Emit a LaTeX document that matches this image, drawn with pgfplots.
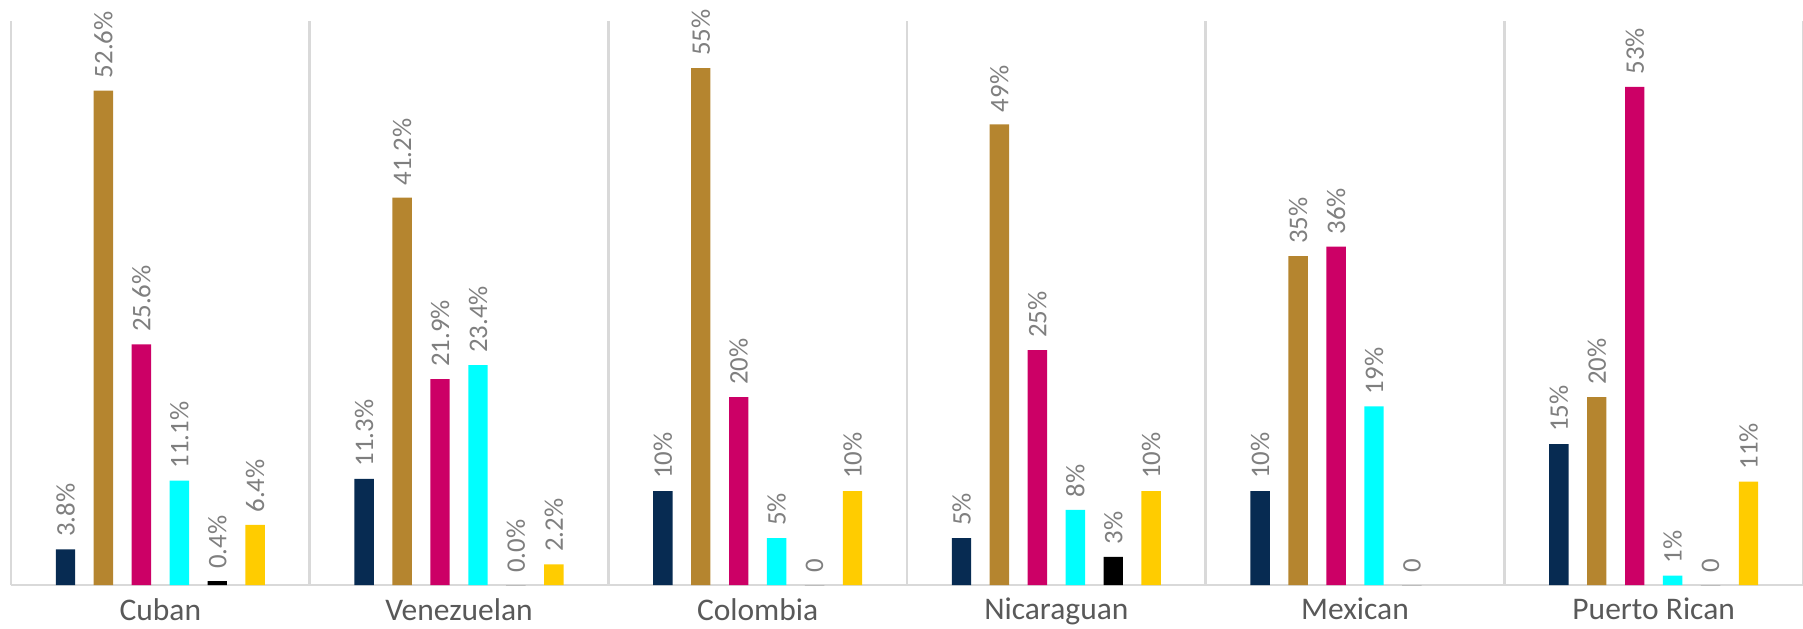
\documentclass[border=0pt]{standalone}
\usepackage{pgfplots}
\pgfplotsset{compat=1.18}
\usepackage{pgfplotstable}
\usepackage{fontspec}
\setmainfont{Carlito}
\definecolor{cNavy}{HTML}{072B52}
\definecolor{cGold}{HTML}{B5852F}
\definecolor{cMag}{HTML}{CC0066}
\definecolor{cCyan}{HTML}{00FFFF}
\definecolor{cBlack}{HTML}{000000}
\definecolor{cYel}{HTML}{FFCC00}
\definecolor{cGrid}{HTML}{D9D9D9}
\definecolor{cLab}{HTML}{7F7F7F}
\definecolor{cCat}{HTML}{595959}

\pgfplotstableread{
x y lab
0 3.8 3.8\%
1 11.3 11.3\%
2 10 10\%
3 5 5\%
4 10 10\%
5 15 15\%
}\sA
\pgfplotstableread{
x y lab
0 52.6 52.6\%
1 41.2 41.2\%
2 55 55\%
3 49 49\%
4 35 35\%
5 20 20\%
}\sB
\pgfplotstableread{
x y lab
0 25.6 25.6\%
1 21.9 21.9\%
2 20 20\%
3 25 25\%
4 36 36\%
5 53 53\%
}\sC
\pgfplotstableread{
x y lab
0 11.1 11.1\%
1 23.4 23.4\%
2 5 5\%
3 8 8\%
4 19 19\%
5 1 1\%
}\sD
\pgfplotstableread{
x y lab
0 0.4 0.4\%
1 0.0 0.0\%
2 0 0
3 3 3\%
4 0 0
5 0 0
}\sE
\pgfplotstableread{
x y lab
0 6.4 6.4\%
1 2.2 2.2\%
2 10 10\%
3 10 10\%
5 11 11\%
}\sF

\begin{document}
\begin{tikzpicture}
\begin{axis}[
  scale only axis,
  width=896bp, height=282bp,
  xmin=-0.5, xmax=5.5,
  ymin=0, ymax=60,
  ybar, bar width=0.065,
  axis x line=bottom,
  axis y line=none,
  x axis line style={-, draw=cGrid, line width=1.2pt},
  xtick={0,...,5},
  xticklabels={Cuban,Venezuelan,Colombia,Nicaraguan,Mexican,Puerto Rican},
  xtick style={draw=none},
  xticklabel style={font=\fontsize{15.75bp}{18bp}\selectfont, text=cCat, yshift=-1bp},
  extra x ticks={-0.5,0.5,1.5,2.5,3.5,4.5,5.5},
  extra x tick labels={},
  extra x tick style={grid=major, tick align=outside, major tick length=22bp,
     tick style={draw=cGrid, line width=1.2pt}},
  major grid style={draw=cGrid, line width=1.2pt},
  clip=false,
  nodes near coords,
  point meta=explicit symbolic,
  every node near coord/.append style={rotate=90, anchor=west, text=cLab,
     font=\fontsize{13.4bp}{16bp}\selectfont, inner xsep=6bp},
]
\addplot[fill=cNavy, draw=none, bar shift=-0.3175] table[x=x,y=y,meta=lab]{\sA};
\addplot[fill=cGold, draw=none, bar shift=-0.1905] table[x=x,y=y,meta=lab]{\sB};
\addplot[fill=cMag, draw=none, bar shift=-0.0635] table[x=x,y=y,meta=lab]{\sC};
\addplot[fill=cCyan, draw=none, bar shift=0.0635] table[x=x,y=y,meta=lab]{\sD};
\addplot[fill=cBlack, draw=none, bar shift=0.1905] table[x=x,y=y,meta=lab]{\sE};
\addplot[fill=cYel, draw=none, bar shift=0.3175] table[x=x,y=y,meta=lab]{\sF};
\end{axis}
\path (current axis.south west) ++(-5.5bp,-22bp) coordinate (bbA);
\path (current axis.north east) ++(0,10.5bp) coordinate (bbB);
\pgfresetboundingbox
\useasboundingbox (bbA) rectangle (bbB);
\end{tikzpicture}
\end{document}
